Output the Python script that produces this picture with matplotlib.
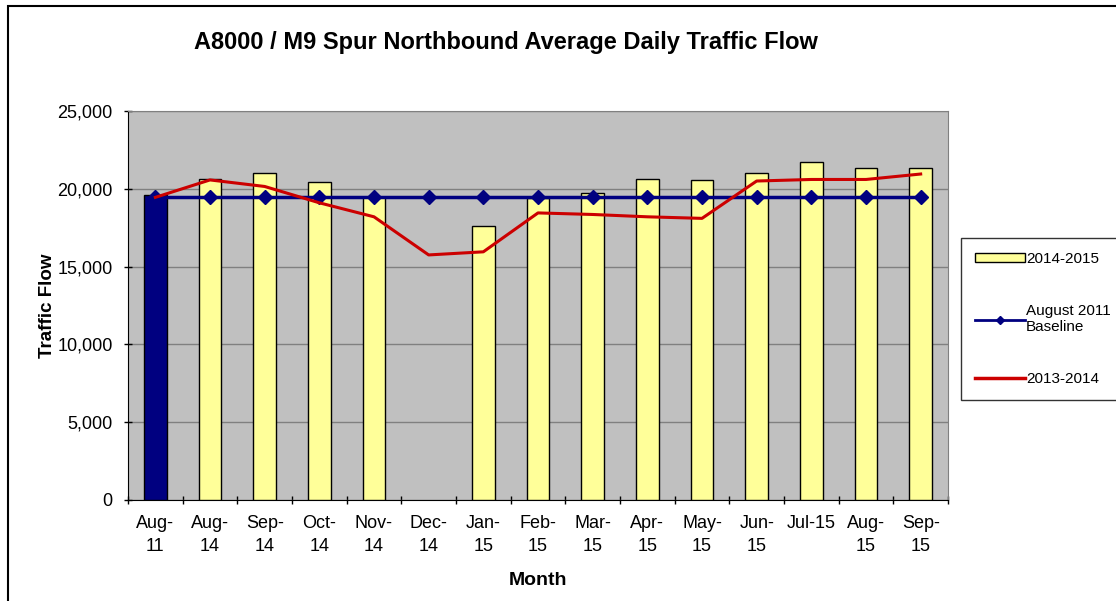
import matplotlib.pyplot as plt
import numpy as np
from matplotlib.patches import Rectangle
from matplotlib.lines import Line2D

plt.rcParams['font.family'] = ['Liberation Sans', 'DejaVu Sans']

months = ['Aug-\n11', 'Aug-\n14', 'Sep-\n14', 'Oct-\n14', 'Nov-\n14', 'Dec-\n14', 'Jan-\n15',
          'Feb-\n15', 'Mar-\n15', 'Apr-\n15', 'May-\n15', 'Jun-\n15', 'Jul-15\n', 'Aug-\n15', 'Sep-\n15']
flow_2014_15 = [19600, 20650, 21000, 20450, 19450, np.nan, 17600, 19400, 19750,
                20650, 20550, 21000, 21700, 21350, 21350]
baseline_2011 = [19500] * 15
flow_2013_14 = [19450, 20570, 20150, 19100, 18200, 15750, 15950, 18450, 18350,
                18200, 18100, 20500, 20600, 20600, 20950]

fig = plt.figure(figsize=(11.16, 6.01), dpi=100)
fig.patches.append(Rectangle((8 / 1116, -0.1), 1.2, (601 - 6) / 601 + 0.1,
                             transform=fig.transFigure, fill=False, ec='black', lw=1.5))

ax = fig.add_axes([128 / 1116, (601 - 500) / 601, (948 - 128) / 1116, (500 - 111) / 601])
ax.set_facecolor('#c0c0c0')

x = np.arange(len(months))
colors = ['#000080'] + ['#ffff99'] * (len(months) - 1)
ax.bar(x, flow_2014_15, width=0.42, color=colors, edgecolor='black', lw=1, zorder=3)
ax.plot(x, baseline_2011, color='#000080', lw=2.5, marker='D', ms=7, zorder=4)
ax.plot(x, flow_2013_14, color='#cc0000', lw=2.2, zorder=5)

ax.set_xlim(-0.5, len(months) - 0.5)
ax.set_ylim(0, 25000)
ax.set_yticks(np.arange(0, 25001, 5000))
ax.set_yticklabels([f'{v:,}' for v in range(0, 25001, 5000)], fontsize=13)
ax.yaxis.grid(True, color='#808080', lw=1, zorder=0)
ax.set_axisbelow(True)

ax.set_xticks(x)
ax.set_xticklabels(months, fontsize=13, linespacing=1.45)
ax.set_xticks(np.arange(-0.5, len(months)), minor=True)
ax.tick_params(axis='x', which='major', length=0, pad=11)
ax.tick_params(axis='x', which='minor', length=6, direction='inout', width=1)
ax.tick_params(axis='y', length=6, direction='inout', width=1, pad=8)

for side in ['top', 'right']:
    ax.spines[side].set_color('#808080')
ax.spines['left'].set_color('black')
ax.spines['bottom'].set_color('black')

ax.set_ylabel('Traffic Flow', fontsize=13.5, fontweight='bold', labelpad=1)
ax.set_xlabel('Month', fontsize=14, fontweight='bold', labelpad=12)
fig.text(506 / 1116, 1 - 42 / 601, 'A8000 / M9 Spur Northbound Average Daily Traffic Flow',
         ha='center', va='center', fontsize=17, fontweight='bold')

handles = [Rectangle((0, 0), 1, 1, fc='#ffff99', ec='black'),
           Line2D([], [], color='#000080', lw=2, marker='D', ms=4),
           Line2D([], [], color='#cc0000', lw=2.5)]
labels = ['2014-2015', 'August 2011\nBaseline', '2013-2014']
leg = fig.legend(handles, labels, loc='upper left', bbox_to_anchor=(961 / 1116, 1 - 238 / 601),
                 fontsize=11, frameon=True, fancybox=False, edgecolor='black',
                 labelspacing=2.5, handlelength=3.3, handleheight=0.5, handletextpad=0.05,
                 borderpad=0.9, borderaxespad=0)
leg.get_frame().set_linewidth(1)

fig.savefig('out.png', dpi=100)
